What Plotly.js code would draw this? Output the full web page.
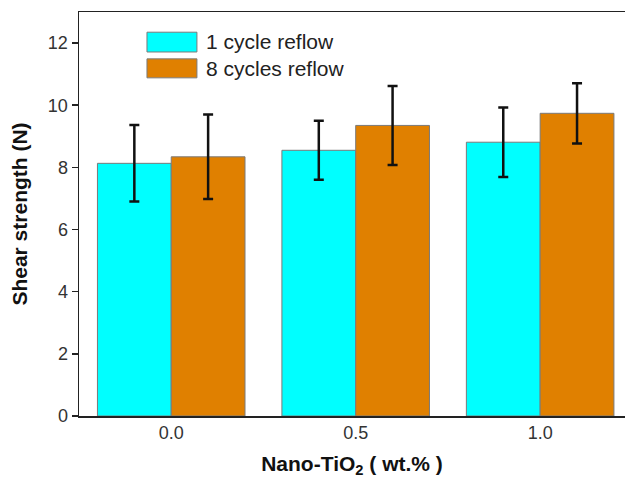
<!DOCTYPE html>
<html>
<head>
<meta charset="utf-8">
<script src="https://cdn.plot.ly/plotly-3.0.1.min.js"></script>
<style>html,body{margin:0;padding:0;background:#fff;}#chart{width:625px;height:481px;}</style>
</head>
<body>
<div id="chart"></div>
<script>
const categories = [0.0, 0.5, 1.0];
const tickLabels = ["0.0", "0.5", "1.0"];
const seriesNames = ["1 cycle reflow", "8 cycles reflow"];
const oneCycle = [8.13, 8.55, 8.81];
const oneCycleErr = [1.23, 0.95, 1.12];
const eightCycles = [8.34, 9.35, 9.74];
const eightCyclesErr = [1.36, 1.27, 0.97];
const yTicks = [0, 2, 4, 6, 8, 10, 12];

const colors = ["#00FFFF", "#E08000"];
const font = "Arial, 'Liberation Sans', sans-serif";

function barTrace(name, y, err, color) {
  return {
    type: "bar", name: name, x: categories, y: y,
    marker: {color: color, line: {color: "#7a7a7a", width: 1}},
    error_y: {type: "data", array: err, visible: true, color: "#111", thickness: 2.5, width: 5},
    showlegend: false, hoverinfo: "x+y"
  };
}

const data = [
  barTrace(seriesNames[0], oneCycle, oneCycleErr, colors[0]),
  barTrace(seriesNames[1], eightCycles, eightCyclesErr, colors[1])
];

const legendBoxes = [
  {y0: 0.901, y1: 0.950, ty: 0.926},
  {y0: 0.837, y1: 0.884, ty: 0.859}
];

const layout = {
  width: 625, height: 481,
  margin: {l: 79, r: 0, t: 12, b: 65},
  paper_bgcolor: "#fff", plot_bgcolor: "#fff",
  barmode: "group", bargap: 0.2, bargroupgap: 0,
  font: {family: font, color: "#222"},
  xaxis: {
    range: [-0.25, 1.23], tickvals: categories, ticktext: tickLabels,
    ticks: "", showgrid: false, zeroline: false,
    showline: true, linecolor: "#222", linewidth: 1.5, mirror: true,
    tickfont: {size: 18, color: "#333"},
    title: {text: "<b>Nano-TiO<sub>2</sub> ( wt.% )</b>", font: {size: 21, color: "#111"}, standoff: 14}
  },
  yaxis: {
    range: [0, 13], tickvals: yTicks, ticks: "outside", ticklen: 6, tickwidth: 1.5, tickcolor: "#222",
    showgrid: false, zeroline: false,
    showline: true, linecolor: "#222", linewidth: 1.5, mirror: false,
    tickfont: {size: 18, color: "#333"},
    title: {text: "<b>Shear strength (N)</b>", font: {size: 21, color: "#111"}, standoff: 14}
  },
  shapes: legendBoxes.map((b, i) => ({
    type: "rect", xref: "paper", yref: "paper",
    x0: 0.1245, x1: 0.216, y0: b.y0, y1: b.y1,
    fillcolor: colors[i], line: {color: "#7a7a7a", width: 1}
  })),
  annotations: legendBoxes.map((b, i) => ({
    xref: "paper", yref: "paper", x: 0.229, y: b.ty, xanchor: "left", yanchor: "middle",
    text: seriesNames[i], showarrow: false, font: {size: 21, color: "#222"}
  }))
};

Plotly.newPlot("chart", data, layout, {staticPlot: true, displayModeBar: false});
</script>
</body>
</html>
